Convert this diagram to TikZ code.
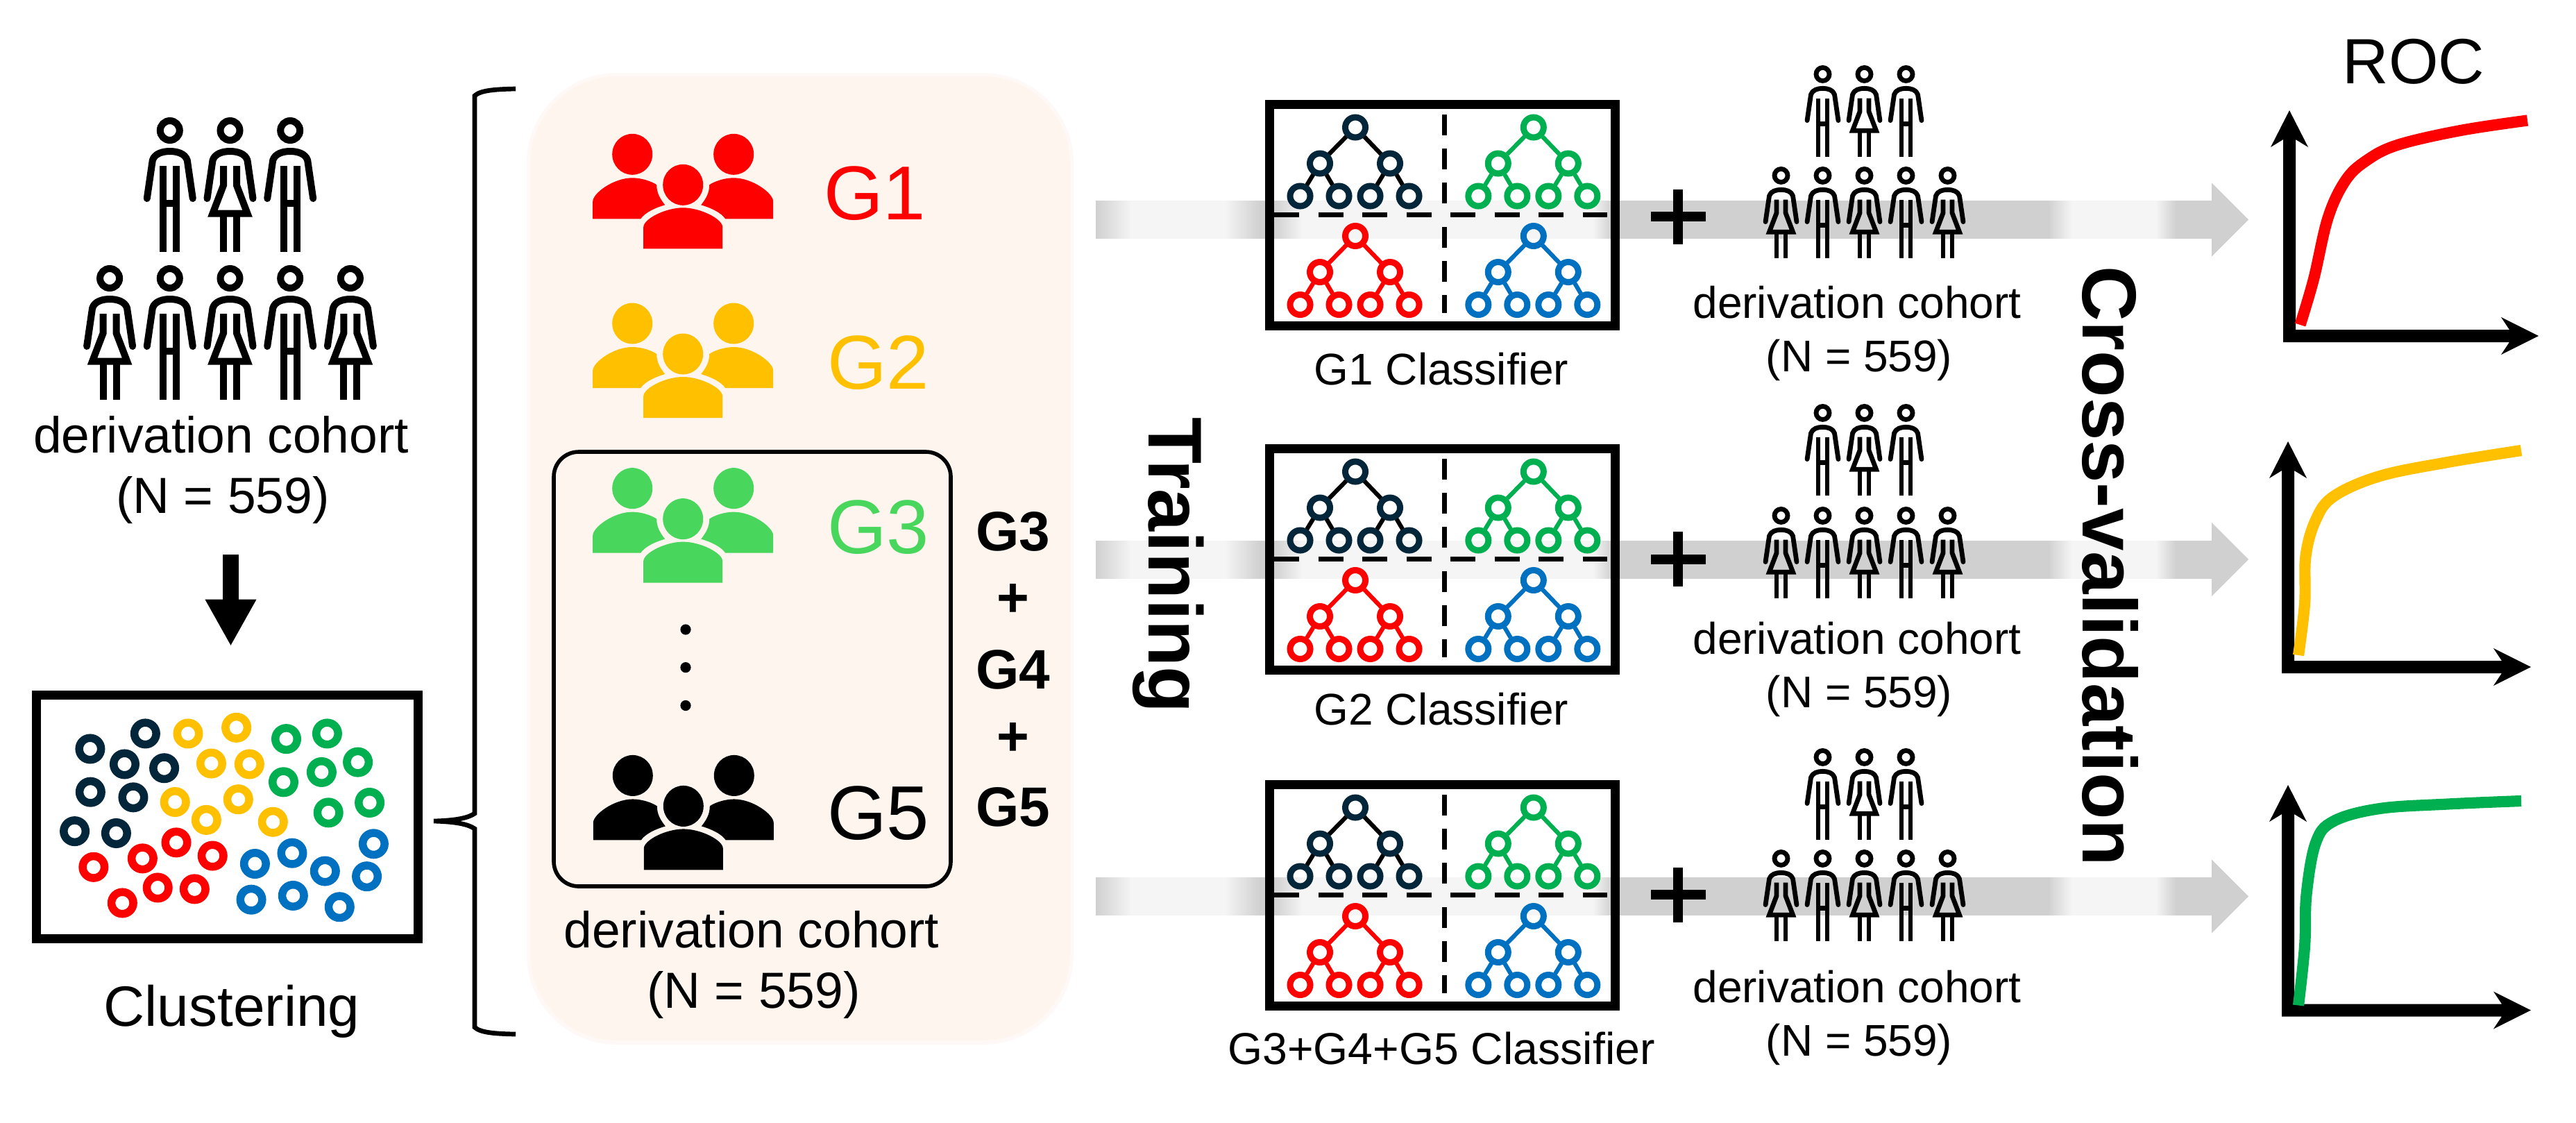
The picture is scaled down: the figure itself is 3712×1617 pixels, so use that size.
\documentclass[tikz,border=0pt]{standalone}
\usepackage{fontspec}
\setmainfont{Liberation Sans}
\usetikzlibrary{arrows.meta}
\definecolor{navy}{HTML}{03263A}
\definecolor{cyel}{HTML}{FFC000}
\definecolor{cgrn}{HTML}{00B050}
\definecolor{cblu}{HTML}{0070C0}
\definecolor{cred}{HTML}{FF0000}
\definecolor{clgn}{HTML}{49D65C}
\definecolor{peach}{HTML}{FEF5EF}
\definecolor{peachb}{HTML}{FEF9F6}
\definecolor{gD}{HTML}{D0D0D0}
\definecolor{gF}{HTML}{F5F5F5}
\tikzset{
  lbl/.style={inner sep=0pt,outer sep=0pt,anchor=base,font=\fontsize{#1}{#1}\selectfont},
  blbl/.style={inner sep=0pt,outer sep=0pt,anchor=base,font=\fontsize{#1}{#1}\selectfont\bfseries},
  treenode/.style={circle,draw=#1,line width=2.56pt,minimum size=8.25pt,inner sep=0pt,outer sep=0pt},
  treeedge/.style={draw=#1,line width=1.75pt,shorten >=1.2pt,shorten <=1.2pt},
  dashh/.style={line width=2pt,dash pattern=on 10.24pt off 7.82pt},
  dashv/.style={line width=2pt,dash pattern=on 8.4pt off 5.55pt},
  ring/.style={draw=#1,line width=3.27pt},
  clfbox/.style={draw,line width=3.7pt,minimum width=141.7pt,minimum height=90.8pt,inner sep=0pt,outer sep=0pt}
}
% person figures: x, y(top), scale
\newcommand\figarms[1]{%
  \pgfmathsetlengthmacro\flw{#1*10*0.28453pt}%
  \draw[line width=\flw] (0,19) circle[radius=14];
  \draw[line width=\flw,line cap=round,line join=round] (-33,117) -- (-25,62) .. controls (-22,52) and (-10,49) .. (0,49) .. controls (10,49) and (22,52) .. (25,62) -- (33,117);
}
\newcommand\personM[3]{\begin{scope}[shift={(#1,#2)},scale=#3]
  \figarms{#3}
  \draw[line width=\flw] (-9.5,70) -- (-9.5,194) (9.5,70) -- (9.5,194) (-9.5,124) -- (9.5,124);
\end{scope}}
\newcommand\personF[3]{\begin{scope}[shift={(#1,#2)},scale=#3]
  \figarms{#3}
  \draw[line width=\flw,miter limit=10] (-9.5,70) -- (-9.5,98) -- (-25,138.5) -- (25,138.5) -- (9.5,98) -- (9.5,70);
  \draw[line width=\flw] (-9.5,143) -- (-9.5,194) (9.5,143) -- (9.5,194);
\end{scope}}
% a cohort of eight people: x of central column, y of top row, y of bottom row, scale, dx
\newcommand\cohort[5]{%
  \personM{#1-#5}{#2}{#4}\personF{#1}{#2}{#4}\personM{#1+#5}{#2}{#4}%
  \personF{#1-2*#5}{#3}{#4}\personM{#1-#5}{#3}{#4}\personF{#1}{#3}{#4}\personM{#1+#5}{#3}{#4}\personF{#1+2*#5}{#3}{#4}%
}
% group icon
\newcommand\crowd[3]{\begin{scope}[shift={(#1,#2)}]
  \fill[#3] (-73,29) ellipse[x radius=29,y radius=29.5] (73,29) ellipse[x radius=29,y radius=29.5] (0,73) ellipse[x radius=29,y radius=29.5];
  \fill[#3] (-130,122) -- (-130,97) .. controls (-130,85) and (-100,63) .. (-73,63) .. controls (-60,63) and (-45,68) .. (-38,73) .. controls (-38,85) and (-33,93) .. (-26,102) .. controls (-40,106) and (-55,113) .. (-61,122) -- cycle;
  \fill[#3] (130,122) -- (130,97) .. controls (130,85) and (100,63) .. (73,63) .. controls (60,63) and (45,68) .. (38,73) .. controls (38,85) and (33,93) .. (26,102) .. controls (40,106) and (55,113) .. (61,122) -- cycle;
  \fill[#3] (-57,165) -- (-57,134) .. controls (-57,122) and (-25,106) .. (0,106) .. controls (25,106) and (57,122) .. (57,134) -- (57,165) -- cycle;
\end{scope}}
% tree: name, root x, root y, node colour, edge colour
\newcommand\tree[5]{%
  \node[treenode=#4] (#1r) at (#2,#3) {};
  \node[treenode=#4] (#1a) at ({#2-51},{#3+52}) {};
  \node[treenode=#4] (#1b) at ({#2+50},{#3+52}) {};
  \node[treenode=#4] (#1c) at ({#2-79.5},{#3+99}) {};
  \node[treenode=#4] (#1d) at ({#2-23.5},{#3+99}) {};
  \node[treenode=#4] (#1e) at ({#2+21.5},{#3+99}) {};
  \node[treenode=#4] (#1f) at ({#2+77.5},{#3+99}) {};
  \draw[treeedge=#5] (#1r) -- (#1a);
  \draw[treeedge=#5] (#1r) -- (#1b);
  \draw[treeedge=#5] (#1a) -- (#1c);
  \draw[treeedge=#5] (#1a) -- (#1d);
  \draw[treeedge=#5] (#1b) -- (#1e);
  \draw[treeedge=#5] (#1b) -- (#1f);
}
% classifier: name, top y of box
\newcommand\classifier[2]{%
  \node[clfbox] (#1box) at (2078.5,{#2+166}) {};
  \tree{#1n}{1953}{#2+39.5}{navy}{black}
  \tree{#1g}{2209.8}{#2+39.5}{cgrn}{cgrn}
  \tree{#1x}{1953}{#2+196}{cred}{cred}
  \tree{#1u}{2209.8}{#2+196}{cblu}{cblu}
  \draw[dashh] (1836,{#2+165.5}) -- (2316,{#2+165.5});
  \draw[dashv] (2081,{#2+21}) -- (2081,{#2+150});
  \draw[dashv] (2081,{#2+183}) -- (2081,{#2+307});
}
% grey arrow: centre y
\newcommand\greyarrow[1]{%
  \foreach \xa/\xb/\ca/\cb in {1579/1630/gD/gF,1630/1765/gF/gF,1765/1815/gF/gD,1815/1836/gD/gD,1836/1876/gD/gF,1876/2295/gF/gF,2295/2322/gF/gD,2322/2951/gD/gD,2951/2985/gD/gF,2985/3106/gF/gF,3106/3135/gF/gD,3135/3187/gD/gD}{
    \shade[left color=\ca,right color=\cb] (\xa,{#1-27}) rectangle ({\xb+0.6},{#1+27});
  }
  \fill[gD] (3187,{#1-53}) -- (3240,{#1}) -- (3187,{#1+53}) -- cycle;
}
% axes: left x, tip y, bottom y, tip x
\newcommand\rocaxes[4]{%
  \fill (#1+9,#2) -- (#1+36,{#2+53}) -- (#1+18,{#2+42}) -- (#1+18,{#3-18}) -- ({#4-42},{#3-18}) -- ({#4-54},{#3-36}) -- (#4,{#3-9}) -- ({#4-54},{#3+18}) -- ({#4-42},#3) -- (#1,#3) -- (#1,{#2+42}) -- (#1-18,{#2+53}) -- cycle;
}
\newcommand\rings[2]{\foreach \a/\b in {#2}{\draw[ring=#1] ({\a/2.24},{\b/1.045+100}) circle[radius=15.75];}}
\begin{document}
\begin{tikzpicture}[x=0.01cm,y=-0.01cm]
\path[use as bounding box,fill=white] (0,0) rectangle (3712,1617);

% grey arrows (underneath)
\greyarrow{316.5}
\greyarrow{806}
\greyarrow{1291.5}

% left part
\cohort{331.5}{169}{382}{1}{86.7}
\node[lbl=20.8] (lefttext) at (318.5,652) {derivation cohort};
\node[lbl=20.8] (leftn) at (321,739) {(N = 559)};
\coordinate (dnA) at (332.5,798.5);
\coordinate (dnB) at (332.5,931);
\draw[line width=6.54pt,-{Triangle[length=19.2pt,width=19.6pt]}] (dnA) -- (dnB);
\node[draw,line width=3.7pt,minimum width=156.2pt,minimum height=99.6pt,inner sep=0pt,outer sep=0pt] (clusterbox) at (327.5,1177) {};
\rings{navy}{291/1023,469/1000,402/1046,530/1052,292/1088,430/1096,241/1147,375/1150}
\rings{cyel}{607/1000,763/991,682/1045,805/1046,565/1103,769/1099,666/1130,881/1133}
\rings{cgrn}{924/1008,1056/1000,1155/1043,1038/1058,915/1073,1193/1104,1060/1119}
\rings{cred}{569/1164,460/1188,686/1184,302/1201,509/1232,628/1234,395/1255}
\rings{cblu}{1206/1166,943/1180,823/1196,1049/1207,1184/1215,811/1250,946/1244,1096/1261}
\node[lbl=23.3] (clustering) at (334,1478) {Clustering};

% brace
\draw[line width=1.9pt] (743,128) .. controls (715,128.5) and (692,130) .. (684,138) -- (684,1172) .. controls (675,1178) and (660,1182) .. (625,1183) .. controls (660,1184) and (675,1188) .. (684,1194) -- (684,1480) .. controls (692,1488) and (715,1489.5) .. (743,1490);

% panel
\fill[peachb,rounded corners=37pt] (759,105) rectangle (1547,1505);
\fill[peach,rounded corners=35.6pt] (764,110) rectangle (1542,1499);
\draw[line width=1.6pt,rounded corners=10.2pt] (798,651) rectangle (1370,1277);

\crowd{984.2}{193.3}{cred}
\crowd{984.2}{437}{cyel}
\crowd{984.2}{674.6}{clgn}
\crowd{984.8}{1088.4}{black}
\node[lbl=31.3,text=cred,anchor=base west] (g1) at (1187,316) {G1};
\node[lbl=31.3,text=cyel,anchor=base west] (g2) at (1192,560) {G2};
\node[lbl=31.3,text=clgn,anchor=base west] (g3) at (1192,797) {G3};
\node[lbl=31.3,anchor=base west] (g5) at (1192,1209) {G5};
\fill (988,907) circle[radius=7.6] (988,961.6) circle[radius=7.6] (988,1016.5) circle[radius=7.6];
\node[blbl=22.8] (bg3) at (1460,793) {G3};
\node[blbl=22.8] (bp1) at (1460,888) {+};
\node[blbl=22.8] (bg4) at (1460,992) {G4};
\node[blbl=22.8] (bp2) at (1460,1088) {+};
\node[blbl=22.8] (bg5) at (1460,1190) {G5};
\node[lbl=20.8] (ptext) at (1083,1365.5) {derivation cohort};
\node[lbl=20.8] (pn) at (1086,1452.5) {(N = 559)};

% classifiers
\classifier{A}{144}
\classifier{B}{640}
\classifier{C}{1124}
\node[lbl=18.2] (la) at (2077,554) {G1 Classifier};
\node[lbl=18.2] (lb) at (2077,1044) {G2 Classifier};
\node[lbl=18.3] (lc) at (2077,1533) {G3+G4+G5 Classifier};

% plus signs
\foreach \py in {312,805.5,1289}{
  \fill (2379,{\py-7}) rectangle (2458,{\py+7});
  \fill (2411,{\py-39.5}) rectangle (2425,{\py+39.5});
}

% right cohorts
\cohort{2686.5}{94}{240}{0.68}{60}
\cohort{2686.5}{582}{730}{0.68}{60}
\cohort{2686.5}{1078}{1224}{0.68}{60}
\node[lbl=18.2] (ra) at (2676,458) {derivation cohort};
\node[lbl=18.2] (ran) at (2679,535) {(N = 559)};
\node[lbl=18.2] (rb) at (2676,942) {derivation cohort};
\node[lbl=18.2] (rbn) at (2679,1019) {(N = 559)};
\node[lbl=18.2] (rc) at (2676,1444) {derivation cohort};
\node[lbl=18.2] (rcn) at (2679,1521) {(N = 559)};

% rotated titles
\node[blbl=31.2,rotate=-90,anchor=base west] (training) at (1655,601) {Training};
\node[blbl=31.4,rotate=-90,anchor=base west] (crossval) at (3001,383) {Cross-validation};

% ROC
\node[lbl=26.2] (roc) at (3478,120) {ROC};
\rocaxes{3290}{159}{493}{3658}
\rocaxes{3288}{636}{970}{3647}
\rocaxes{3288}{1131}{1464.5}{3647}
\draw[cred,line width=4.6pt] plot[smooth,tension=0.6] coordinates {(3314.5,468) (3334,402) (3354.5,314) (3379.5,260.5) (3409,232) (3454.5,209) (3545.5,188) (3642,173.5)};
\draw[cyel,line width=4.6pt] plot[smooth,tension=0.6] coordinates {(3312,944) (3321,870) (3322.5,801) (3337,749) (3363,715) (3429,686) (3527,666) (3633,649)};
\draw[cgrn,line width=4.6pt] plot[smooth,tension=0.6] coordinates {(3312,1448.5) (3321,1363.5) (3323.5,1289) (3337,1214) (3363,1183) (3429,1165) (3527,1158.5) (3633,1154)};
\end{tikzpicture}
\end{document}
